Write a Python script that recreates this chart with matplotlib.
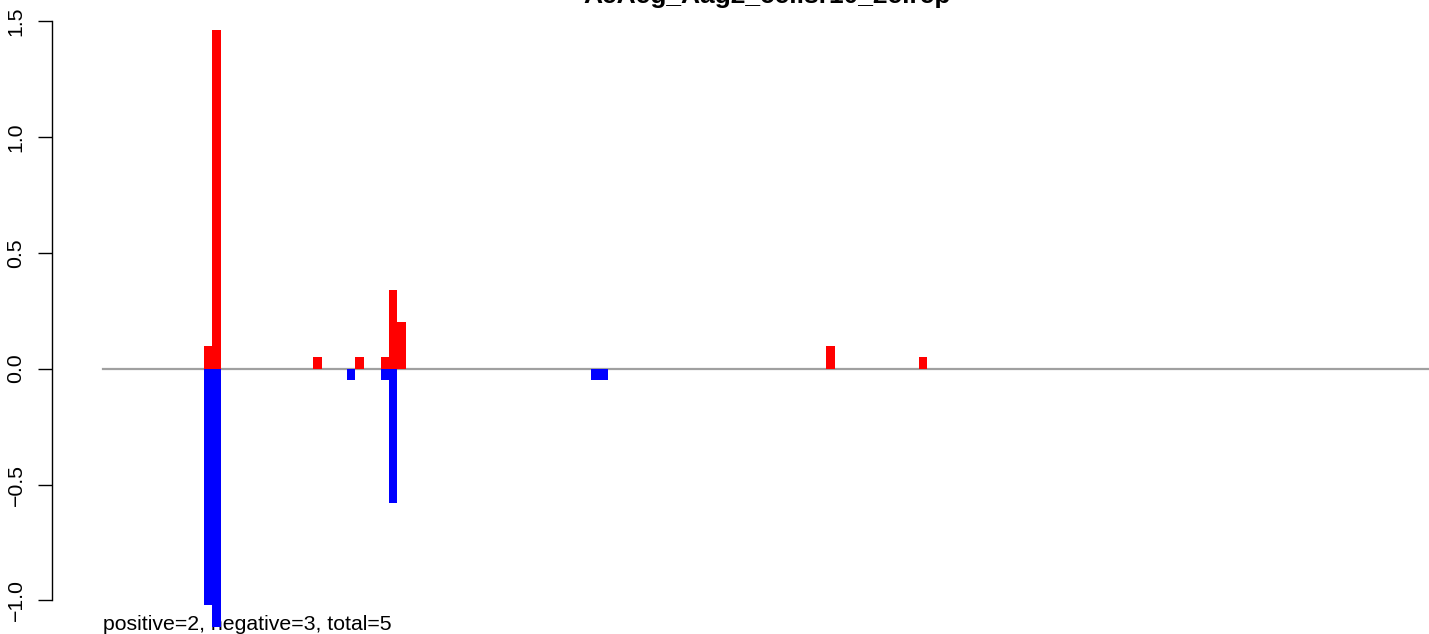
import matplotlib
matplotlib.use("Agg")
import matplotlib.pyplot as plt

plt.rcParams['font.family'] = ['Liberation Sans', 'DejaVu Sans']

title = "AeAeg_Aag2_cellsr10_2elrep"
note = "positive=2, negative=3, total=5"

# bin index (left edge) and value of each bar
pos_bins = [0, 1, 13, 18, 21, 22, 23, 74, 85]
pos_vals = [0.10, 1.46, 0.05, 0.05, 0.05, 0.34, 0.20, 0.10, 0.05]
neg_bins = [0, 1, 17, 21, 22, 46, 47]
neg_vals = [-1.02, -1.115, -0.05, -0.05, -0.58, -0.05, -0.05]

yticks = [-1.0, -0.5, 0.0, 0.5, 1.0, 1.5]
x_start = -12.0
x_end = 160.0

W, H = 1429, 634
fig = plt.figure(figsize=(W / 100, H / 100), dpi=100)
ax = fig.add_axes([52 / W, 0, (W - 52) / W, 1])
ax.set_xlim(-18.07, 145.66)
ax.set_ylim(-1.145, 1.591)

ax.plot([x_start, x_end], [0, 0], color='#a0a0a0', lw=1.6, zorder=1)
ax.text(x_start, -1.127, note, fontsize=15.3, ha='left', va='baseline', zorder=2)
ax.bar(pos_bins, pos_vals, width=1, align='edge', color='#ff0000', lw=0, zorder=3)
ax.bar(neg_bins, neg_vals, width=1, align='edge', color='#0000ff', lw=0, zorder=3)

for s in ['top', 'right', 'bottom']:
    ax.spines[s].set_visible(False)
ax.spines['left'].set_bounds(-1.0, 1.5)
ax.spines['left'].set_linewidth(1.0)
ax.set_xticks([])
ax.set_yticks(yticks)
ax.set_yticklabels(['\u22121.0', '\u22120.5', '0.0', '0.5', '1.0', '1.5'],
                   rotation=90, va='center', fontsize=15.3)
ax.tick_params(axis='y', length=10, width=1.0, pad=9)

fig.text(767 / W, 1 - 3 / H, title, ha='center', va='baseline',
         fontsize=19, fontweight='bold')

fig.savefig('out.png', dpi=100)
